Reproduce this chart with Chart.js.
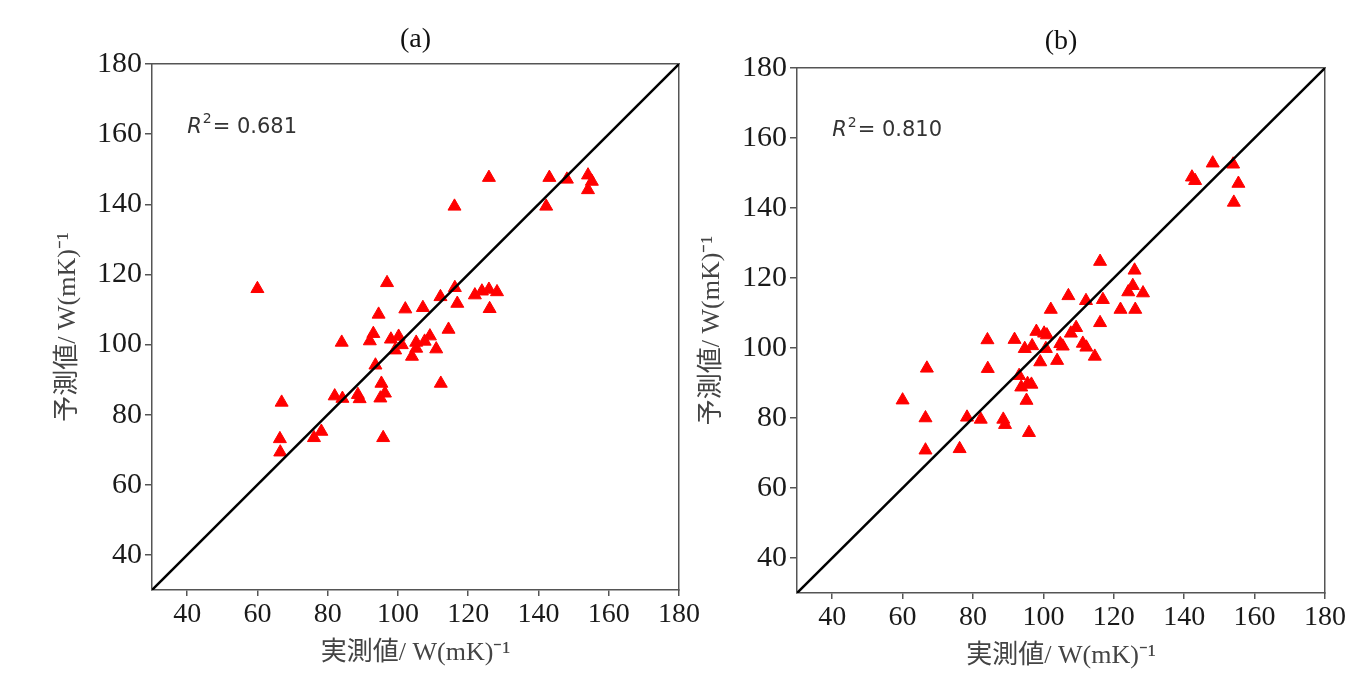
<!DOCTYPE html>
<html>
<head>
<meta charset="utf-8">
<script src="https://cdn.jsdelivr.net/npm/chart.js@4.4.1/dist/chart.umd.min.js"></script>
<style>
  html, body { margin:0; padding:0; background:#ffffff; }
  body { width:1369px; height:684px; position:relative; overflow:hidden; }
  canvas { position:absolute; top:0; }
</style>
</head>
<body>
<canvas id="chartA" width="710" height="684" style="left:0px"></canvas>
<canvas id="chartB" width="679" height="684" style="left:690px"></canvas>
<script>
// ---------- data ----------
const panelTitles = ['(a)', '(b)'];
const r2Labels = ['0.681', '0.810'];
const xAxisTitle = '実測値/ W(mK)⁻¹';
const yAxisTitle = '予測値/ W(mK)⁻¹';
const axisMin = 30;
const axisMax = 180;
const xTickValues = [40, 60, 80, 100, 120, 140, 160, 180];
const yTickValues = [40, 60, 80, 100, 120, 140, 160, 180];
const diagX = [30, 180];
const diagY = [30, 180];

// panel (a): measured vs predicted
const measuredA = [60.0, 96.9, 125.9, 143.1, 148.1, 154.1, 155.2, 154.1, 142.2, 116.1,
  116.2, 112.1, 116.9, 121.9, 123.9, 125.9, 128.2, 126.1, 102.1, 107.1,
  94.5, 114.4, 84.0, 93.0, 92.0, 98.0, 100.2, 99.2, 101.1, 104.0,
  105.2, 105.2, 107.6, 109.1, 110.9, 93.6, 95.3, 112.2, 82.0, 84.2,
  88.6, 89.1, 95.0, 96.3, 66.9, 66.4, 66.5, 76.1, 78.2, 95.8];
const predictedA = [115.9, 117.6, 147.6, 147.6, 147.1, 148.3, 146.5, 144.1, 139.4, 139.4,
  116.2, 113.6, 111.7, 114.1, 115.2, 115.7, 115.0, 110.2, 110.1, 110.5,
  108.6, 104.3, 100.6, 103.1, 101.0, 101.5, 102.3, 98.4, 99.9, 96.6,
  100.6, 98.9, 100.9, 102.4, 98.7, 94.1, 88.9, 88.9, 85.3, 84.6,
  85.7, 84.5, 84.7, 86.1, 83.5, 73.1, 69.3, 73.4, 75.2, 73.4];

// panel (b): measured vs predicted
const measuredB = [148.1, 153.9, 142.2, 143.1, 155.4, 154.1, 116.1, 125.9, 125.4, 124.1,
  128.3, 107.1, 112.1, 116.9, 121.9, 126.1, 102.1, 116.1, 98.0, 100.2,
  101.0, 109.3, 107.8, 84.1, 91.8, 94.7, 96.8, 100.7, 104.8, 105.5,
  111.2, 112.2, 114.6, 99.1, 103.9, 84.2, 66.9, 93.1, 93.7, 95.5,
  96.6, 95.2, 60.0, 66.5, 78.3, 82.2, 88.6, 89.1, 95.9, 66.5, 76.2];
const predictedB = [152.8, 152.5, 148.8, 147.8, 147.0, 141.6, 124.7, 122.2, 117.8, 116.0,
  115.7, 114.9, 113.5, 113.8, 111.0, 111.0, 111.0, 107.2, 104.7, 104.2,
  103.7, 105.8, 104.2, 102.3, 102.4, 99.8, 100.6, 99.8, 101.2, 100.5,
  101.3, 100.2, 97.6, 96.0, 96.4, 94.1, 94.2, 92.1, 88.8, 89.8,
  89.6, 85.0, 85.1, 80.0, 80.2, 79.6, 79.6, 78.1, 75.8, 70.8, 71.2];

// ---------- chart builder ----------
const serif = "'Liberation Serif', 'Times New Roman', 'Noto Sans CJK JP', serif";
const titleFont = "'Liberation Serif', 'Noto Sans CJK JP', serif";
const frameColor = '#555555';

function toPoints(xs, ys) { return xs.map((x, i) => ({ x: x, y: ys[i] })); }

const r2Plugin = {
  id: 'r2text',
  afterDatasetsDraw(chart, args, opts) {
    const ctx = chart.ctx;
    const xs = chart.scales.x, ys = chart.scales.y;
    let px = xs.getPixelForValue(40);
    const py = ys.getPixelForValue(162);
    ctx.save();
    ctx.fillStyle = '#333333';
    ctx.textBaseline = 'middle';
    ctx.textAlign = 'left';
    ctx.font = 'italic 21px "DejaVu Sans"';
    ctx.fillText('R', px, py);
    px += ctx.measureText('R').width + 1;
    ctx.font = '14px "DejaVu Sans"';
    ctx.fillText('2', px, py - 8);
    px += ctx.measureText('2').width + 1;
    ctx.font = '21px "DejaVu Sans"';
    ctx.fillText('= ' + opts.value, px, py);
    ctx.restore();
  }
};

function makeChart(id, cfg) {
  const ctx = document.getElementById(id).getContext('2d');
  return new Chart(ctx, {
    type: 'scatter',
    data: {
      datasets: [
        {
          label: 'y=x',
          data: toPoints(diagX, diagY),
          showLine: true,
          borderColor: '#000000',
          borderWidth: 2.5,
          pointRadius: 0,
          fill: false
        },
        {
          label: 'points',
          data: toPoints(cfg.xs, cfg.ys),
          pointStyle: 'triangle',
          pointRadius: 7.5,
          backgroundColor: '#ff0000',
          borderColor: '#ff0000',
          borderWidth: 1
        }
      ]
    },
    options: {
      responsive: false,
      devicePixelRatio: 1,
      animation: false,
      events: [],
      layout: { padding: { left: 0, right: cfg.padRight, top: 0, bottom: 0 } },
      plugins: {
        legend: { display: false },
        tooltip: { enabled: false },
        title: {
          display: true,
          fullSize: false,
          text: cfg.title,
          color: '#111111',
          font: { family: serif, size: 28, weight: 'normal' },
          padding: { top: cfg.titleTop, bottom: cfg.titleBottom }
        },
        r2text: { value: cfg.r2 }
      },
      scales: {
        x: {
          type: 'linear', position: 'bottom', min: axisMin, max: axisMax,
          afterBuildTicks: s => { s.ticks = xTickValues.map(v => ({ value: v })); },
          afterFit: s => { s.height = cfg.xAxisHeight; },
          grid: { display: true, drawOnChartArea: false, drawTicks: true, tickLength: 6, color: frameColor, lineWidth: 1.5 },
          border: { display: true, color: frameColor, width: 1.5 },
          ticks: { color: '#1a1a1a', font: { family: serif, size: 28 }, padding: 2, maxRotation: 0, autoSkip: false },
          title: { display: true, text: xAxisTitle, color: '#444444', font: { family: titleFont, size: 26 }, padding: { top: 0, bottom: cfg.xTitlePad } }
        },
        y: {
          type: 'linear', position: 'left', min: axisMin, max: axisMax,
          afterBuildTicks: s => { s.ticks = yTickValues.map(v => ({ value: v })); },
          afterFit: s => { s.width = cfg.yAxisWidth; },
          grid: { display: true, drawOnChartArea: false, drawTicks: true, tickLength: 7, color: frameColor, lineWidth: 1.5 },
          border: { display: true, color: frameColor, width: 1.5 },
          ticks: { color: '#1a1a1a', font: { family: serif, size: 30 }, padding: 3, autoSkip: false },
          title: { display: true, text: yAxisTitle, color: '#444444', font: { family: titleFont, size: 26 }, padding: { top: cfg.yTitlePad, bottom: 0 } }
        },
        x2: {
          type: 'linear', position: 'top', min: axisMin, max: axisMax,
          afterFit: s => { s.height = 0; },
          grid: { display: false },
          ticks: { display: false },
          border: { display: true, color: frameColor, width: 1.5 }
        },
        y2: {
          type: 'linear', position: 'right', min: axisMin, max: axisMax,
          afterFit: s => { s.width = 0; },
          grid: { display: false },
          ticks: { display: false },
          border: { display: true, color: frameColor, width: 1.5 }
        }
      }
    },
    plugins: [r2Plugin]
  });
}

makeChart('chartA', {
  xs: measuredA, ys: predictedA, title: panelTitles[0], r2: r2Labels[0],
  padRight: 31, titleTop: 23.2, titleBottom: 7.2,
  xAxisHeight: 94, xTitlePad: 15.4, yAxisWidth: 152, yTitlePad: 52.4
});
makeChart('chartB', {
  xs: measuredB, ys: predictedB, title: panelTitles[1], r2: r2Labels[1],
  padRight: 44, titleTop: 25.2, titleBottom: 9.2,
  xAxisHeight: 91, xTitlePad: 12.4, yAxisWidth: 107, yTitlePad: 6.4
});
</script>
</body>
</html>
